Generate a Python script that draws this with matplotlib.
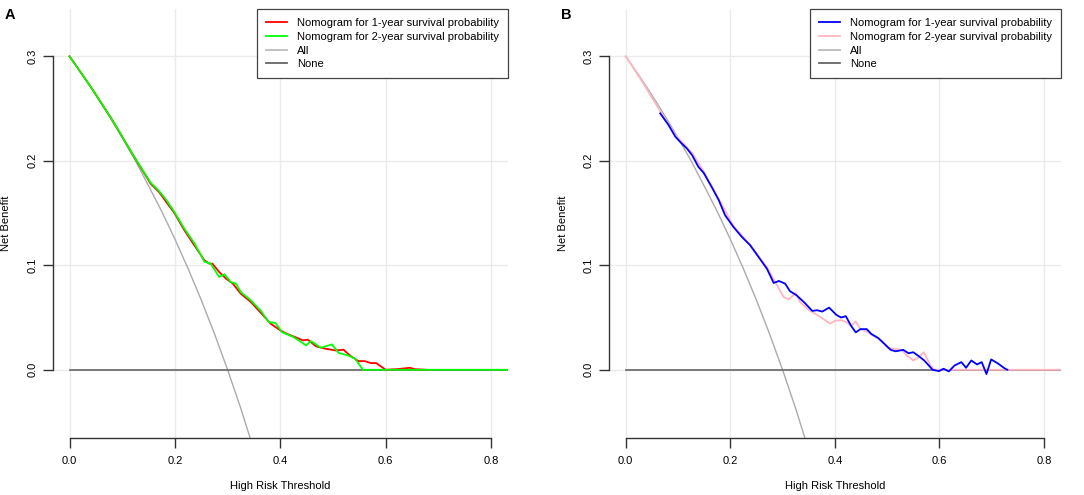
import matplotlib
matplotlib.use("Agg")
import matplotlib.pyplot as plt

plt.rcParams["font.family"] = ["Liberation Sans", "DejaVu Sans"]
plt.rcParams["font.size"] = 8

# panel A readings
a_one_x = [0.0, 0.04, 0.08, 0.12, 0.154, 0.17, 0.183, 0.199, 0.218, 0.237, 0.256, 0.265, 0.271,
           0.284, 0.297, 0.31, 0.325, 0.344, 0.363, 0.382, 0.4, 0.412, 0.428, 0.443, 0.452, 0.468,
           0.486, 0.505, 0.52, 0.532, 0.548, 0.56, 0.572, 0.582, 0.6, 0.622, 0.646, 0.655, 0.677]
a_one_y = [0.3, 0.271, 0.24, 0.206, 0.178, 0.17, 0.161, 0.15, 0.1335, 0.119, 0.1048, 0.1016, 0.1016,
           0.0936, 0.0872, 0.0824, 0.0728, 0.0649, 0.0545, 0.044, 0.0377, 0.0345, 0.0313, 0.0281,
           0.0288, 0.0224, 0.0201, 0.0185, 0.0192, 0.0137, 0.0083, 0.0083, 0.0064, 0.0064, 0.0,
           0.0006, 0.0019, 0.0006, 0.0]
a_two_x = [0.0, 0.04, 0.08, 0.12, 0.154, 0.17, 0.183, 0.199, 0.218, 0.237, 0.256, 0.268, 0.284,
           0.294, 0.306, 0.316, 0.325, 0.344, 0.363, 0.378, 0.391, 0.403, 0.425, 0.449, 0.458, 0.477,
           0.498, 0.511, 0.529, 0.542, 0.557, 0.832]
a_two_y = [0.3, 0.271, 0.24, 0.206, 0.179, 0.171, 0.163, 0.151, 0.135, 0.121, 0.1035, 0.1016, 0.0888,
           0.0914, 0.084, 0.0824, 0.0744, 0.0665, 0.0565, 0.0457, 0.0447, 0.0361, 0.0313, 0.0233,
           0.0275, 0.0211, 0.0243, 0.016, 0.0137, 0.0105, 0.0, 0.0]

# panel B readings
b_one_x = [0.066, 0.082, 0.095, 0.107, 0.117, 0.127, 0.139, 0.149, 0.165, 0.178, 0.19, 0.206, 0.222,
           0.238, 0.254, 0.27, 0.283, 0.293, 0.305, 0.314, 0.327, 0.342, 0.357, 0.366, 0.376, 0.389,
           0.403, 0.412, 0.421, 0.431, 0.44, 0.449, 0.461, 0.47, 0.483, 0.495, 0.507, 0.516, 0.531,
           0.541, 0.55, 0.559, 0.571, 0.587, 0.599, 0.608, 0.618, 0.629, 0.642, 0.651, 0.661, 0.672,
           0.681, 0.69, 0.699, 0.712, 0.725, 0.73]
b_one_y = [0.2454, 0.2342, 0.223, 0.2166, 0.2118, 0.2054, 0.1942, 0.1885, 0.1744, 0.1623, 0.148,
           0.1367, 0.1272, 0.1192, 0.108, 0.0968, 0.0831, 0.085, 0.0824, 0.0753, 0.0712, 0.0642,
           0.0563, 0.057, 0.0557, 0.0595, 0.0525, 0.05, 0.0513, 0.0421, 0.0358, 0.0389, 0.0389,
           0.0342, 0.0304, 0.0247, 0.019, 0.0177, 0.019, 0.0158, 0.0168, 0.0136, 0.0089, 0.0,
           -0.0013, 0.001, -0.0016, 0.0041, 0.0073, 0.0019, 0.0089, 0.0051, 0.0073, -0.0041, 0.0099,
           0.006, 0.0013, 0.0]
b_two_x = [0.0, 0.03, 0.066, 0.095, 0.127, 0.149, 0.178, 0.206, 0.238, 0.27, 0.286, 0.302, 0.312,
           0.325, 0.334, 0.351, 0.369, 0.391, 0.4, 0.412, 0.421, 0.431, 0.44, 0.449, 0.461, 0.473,
           0.489, 0.501, 0.516, 0.528, 0.538, 0.55, 0.559, 0.57, 0.583, 0.59, 0.832]
b_two_y = [0.3, 0.277, 0.2475, 0.2246, 0.2075, 0.19, 0.1635, 0.1375, 0.1195, 0.098, 0.084, 0.0696,
           0.0674, 0.0735, 0.0645, 0.057, 0.0516, 0.0443, 0.0468, 0.0475, 0.0459, 0.0421, 0.0462,
           0.0389, 0.0367, 0.0326, 0.0278, 0.0209, 0.0199, 0.019, 0.0136, 0.0089, 0.0114, 0.0168,
           0.0041, 0.0, 0.0]

# reference strategies (same in both panels)
all_x = [0.0, 0.025, 0.05, 0.075, 0.1, 0.125, 0.15, 0.175, 0.2, 0.225, 0.25, 0.275, 0.3, 0.325, 0.35]
all_y = [0.3, 0.282, 0.263, 0.243, 0.222, 0.2, 0.176, 0.1515, 0.125, 0.0968, 0.0667, 0.0345, 0.0,
         -0.037, -0.077]
none_x = [0.0, 0.832]
none_y = [0.0, 0.0]

labels = ["Nomogram for 1-year survival probability",
          "Nomogram for 2-year survival probability", "All", "None"]
x_ticks = [0.0, 0.2, 0.4, 0.6, 0.8]
y_ticks = [0.0, 0.1, 0.2, 0.3]

panels = [
    ("A", [0.0486, 0.1158, 0.4200, 0.8654], a_one_x, a_one_y, a_two_x, a_two_y, "#FF0000", "#00FF00", False, 10),
    ("B", [0.5618, 0.1158, 0.4167, 0.8654], b_one_x, b_one_y, b_two_x, b_two_y, "#0000FF", "#FFB6C1", True, 566),
]

fig = plt.figure(figsize=(10.84, 4.95), dpi=100)

for letter, rect, x1, y1, x2, y2, c1, c2, one_on_top, letter_px in panels:
    ax = fig.add_axes(rect)
    ax.set_xlim(-0.032, 0.832)
    ax.set_ylim(-0.065, 0.345)

    for t in x_ticks:
        ax.axvline(t, color="#EBEBEB", lw=1, zorder=0)
    for t in y_ticks:
        ax.axhline(t, color="#EBEBEB", lw=1, zorder=0)

    ax.plot(all_x, all_y, color="#ABABAB", lw=1.0, zorder=2)
    ax.plot(none_x, none_y, color="#666666", lw=1.2, zorder=2)
    z1, z2 = (4, 3) if one_on_top else (3, 4)
    ax.plot(x1, y1, color=c1, lw=1.3, zorder=z1)
    ax.plot(x2, y2, color=c2, lw=1.3, zorder=z2)

    handles = [
        plt.Line2D([], [], color=c1, lw=1.3),
        plt.Line2D([], [], color=c2, lw=1.3),
        plt.Line2D([], [], color="#BBBBBB", lw=1.3),
        plt.Line2D([], [], color="#666666", lw=1.3),
    ]
    leg = ax.legend(handles, labels, loc="upper right", borderaxespad=0,
                    fancybox=False, framealpha=1, edgecolor="#444444",
                    handlelength=1.9, handletextpad=0.9, labelspacing=0.33,
                    borderpad=0.8, fontsize=8)
    leg.get_frame().set_linewidth(0.9)
    leg.set_zorder(6)

    for s in ("top", "right"):
        ax.spines[s].set_visible(False)
    ax.spines["left"].set_bounds(0, 0.3)
    ax.spines["bottom"].set_bounds(0, 0.8)
    for s in ("left", "bottom"):
        ax.spines[s].set_color("#333333")
        ax.spines[s].set_linewidth(1.0)

    ax.set_xticks(x_ticks)
    ax.set_xticklabels([f"{t:.1f}" for t in x_ticks])
    ax.set_yticks(y_ticks)
    ax.set_yticklabels([f"{t:.1f}" for t in y_ticks], rotation=90, va="center")
    ax.tick_params(direction="out", length=7, width=1.0, color="#333333", labelsize=8)
    ax.tick_params(axis="x", pad=6)
    ax.tick_params(axis="y", pad=4)
    ax.set_xlabel("High Risk Threshold", fontsize=8)
    ax.set_ylabel("Net Benefit", fontsize=8)
    ax.xaxis.set_label_coords(0.5, -0.102)
    ax.yaxis.set_label_coords(-0.091, 0.5)

    fig.text(letter_px / 1084, 1 - 15 / 495, letter, fontsize=10.5, fontweight="bold",
             ha="center", va="center")

fig.savefig("out.png", dpi=100)
